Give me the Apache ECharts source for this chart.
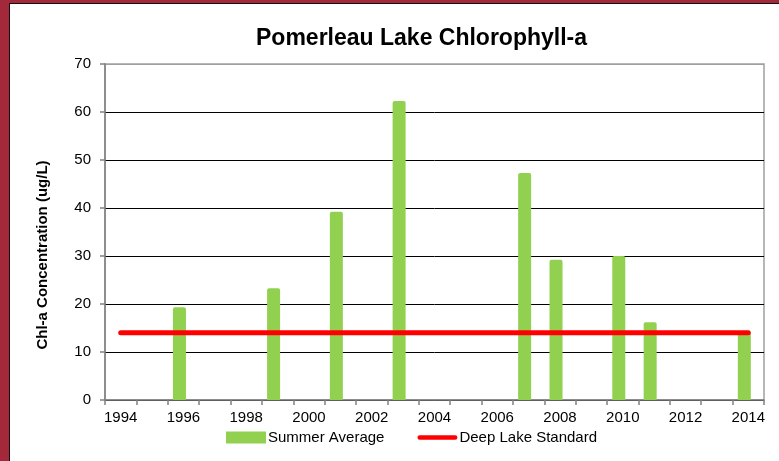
<!DOCTYPE html>
<html>
<head>
<meta charset="utf-8">
<script src="https://cdn.jsdelivr.net/npm/echarts@6/dist/echarts.min.js"></script>
<style>
  html, body { margin: 0; padding: 0; background: #fff; }
  #chart { position: absolute; left: 0; top: 0; width: 779px; height: 461px; }
  .fr { position: absolute; pointer-events: none; }
</style>
</head>
<body>
<div id="chart"></div>
<div class="fr" style="left:0;top:0;width:9px;height:461px;background:#A3283A;"></div>
<div class="fr" style="left:0;top:0;width:779px;height:3px;background:#A3283A;"></div>
<div class="fr" style="left:9px;top:3px;width:1px;height:458px;background:#111;"></div>
<div class="fr" style="left:9px;top:3px;width:770px;height:1px;background:#111;"></div>
<script>
const years = ['1994','1995','1996','1997','1998','1999','2000','2001','2002','2003','2004',
               '2005','2006','2007','2008','2009','2010','2011','2012','2013','2014'];
const summerAverage = [null,null,19.3,null,null,23.3,null,39.2,null,62.3,null,
                       null,null,47.3,29.2,null,30.0,16.2,null,null,14.0];
const deepLakeStandard = [14,14,14,14,14,14,14,14,14,14,14,14,14,14,14,14,14,14,14,14,14];
const emptySeries = years.map(() => null);
const yTicks = { min: 0, max: 70, interval: 10 };

const chart = echarts.init(document.getElementById('chart'), null, { renderer: 'canvas' });
const font = 'Liberation Sans, Arial, sans-serif';
chart.setOption({
  backgroundColor: '#ffffff',
  animation: false,
  title: {
    text: 'Pomerleau Lake Chlorophyll-a',
    left: 251, top: 22,
    textStyle: { fontFamily: font, fontSize: 23, fontWeight: 'bold', color: '#000' }
  },
  grid: { left: 105, right: 15, top: 64, bottom: 61, show: true, borderColor: '#a0a0a0', borderWidth: 1.5, backgroundColor: 'transparent' },
  legend: {
    left: 226, top: 430, padding: 0,
    itemWidth: 40, itemHeight: 12, itemGap: 33,
    textStyle: { fontFamily: font, fontSize: 15, color: '#000', padding: [0, 0, 0, -3] },
    data: [
      { name: 'Summer Average', icon: 'rect' },
      { name: 'Deep Lake Standard',
        icon: 'path://M2.5,0 L41.5,0 A2.5,2.5 0 0 1 41.5,5 L2.5,5 A2.5,2.5 0 0 1 2.5,0 Z',
        itemStyle: { color: '#FF0000' } }
    ]
  },
  xAxis: {
    type: 'category',
    data: years,
    boundaryGap: true,
    axisLine: { lineStyle: { color: '#808080', width: 1.5 } },
    axisTick: { show: true, inside: false, length: 5, interval: 0, alignWithLabel: false, lineStyle: { color: '#808080', width: 1.5 } },
    axisLabel: { interval: 1, margin: 10, fontFamily: font, fontSize: 15, color: '#000' },
    splitLine: { show: false }
  },
  yAxis: {
    type: 'value',
    min: yTicks.min, max: yTicks.max, interval: yTicks.interval,
    name: 'Chl-a Concentration (ug/L)',
    nameLocation: 'middle',
    nameGap: 55,
    nameTextStyle: { fontFamily: font, fontSize: 15, fontWeight: 'bold', color: '#000', padding: [0, 46, 0, 0] },
    axisLine: { show: true, lineStyle: { color: '#808080', width: 1.5 } },
    axisTick: { show: true, inside: false, length: 5, lineStyle: { color: '#808080', width: 1.5 } },
    axisLabel: { margin: 14, fontFamily: font, fontSize: 15, color: '#000' },
    splitLine: { show: true, lineStyle: { color: ['#000','#000','#000','#000','#000','#000','#000','#a0a0a0'], width: 1 } }
  },
  series: [
    {
      name: 'Summer Average',
      type: 'bar',
      data: summerAverage,
      barWidth: 13,
      barGap: '0%',
      itemStyle: { color: '#92D050', borderRadius: [2, 2, 0, 0] },
      z: 2
    },
    {
      name: 'spacer',
      type: 'bar',
      data: emptySeries,
      barWidth: 8,
      barGap: '0%',
      itemStyle: { color: 'transparent' }
    },
    {
      name: 'Deep Lake Standard',
      type: 'line',
      data: deepLakeStandard,
      symbol: 'none',
      showSymbol: false,
      lineStyle: { color: '#FF0000', width: 5, cap: 'round' },
      itemStyle: { color: '#FF0000' },
      z: 3
    }
  ]
});
</script>
</body>
</html>
